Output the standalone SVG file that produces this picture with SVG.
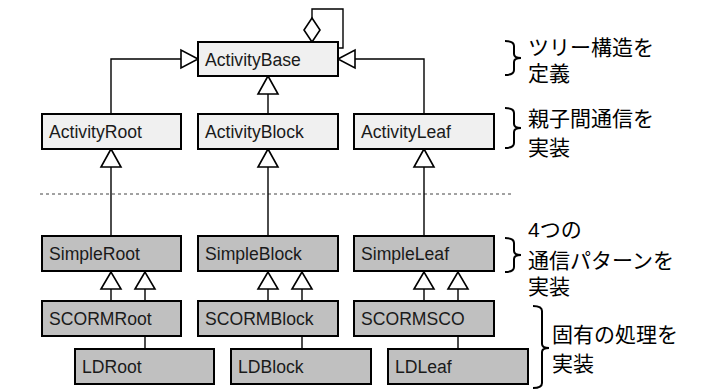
<svg xmlns="http://www.w3.org/2000/svg" width="704" height="389" viewBox="0 0 704 389">
<style>
.box{stroke:#000;stroke-width:2}
.light{fill:#f0f0f0}
.dark{fill:#c0c0c0}
.lbl{font-family:"Liberation Sans",Arial,sans-serif;font-size:17.6px;fill:#1a1a1a}
.jp{font-family:"Liberation Sans","Noto Sans CJK JP",sans-serif;font-size:21px;fill:#000}
.ln{fill:none;stroke:#000;stroke-width:1.4}
.tri{fill:#fff;stroke:#000;stroke-width:1.6;stroke-linejoin:miter}
.br{fill:none;stroke:#000;stroke-width:2}
</style>
<rect width="704" height="389" fill="#fff"/>
<g id="connectors">
<line x1="40" y1="194" x2="514" y2="194" stroke="#444" stroke-width="1" stroke-dasharray="3,3"/>
<path class="ln" d="M111,114 V59 H181"/>
<polygon class="tri" points="198,59 181,50 181,68"/>
<path class="ln" d="M424,114 V59 H355"/>
<polygon class="tri" points="338,59 355,50 355,68"/>
<path class="ln" d="M268,114 V94"/>
<polygon class="tri" points="268,76 258,94 278,94"/>
<path class="ln" d="M312,18 V9 H343 V48 H338"/>
<polygon class="tri" points="312,42 304,30 312,18 320,30"/>
<path class="ln" d="M111,236 V167"/>
<polygon class="tri" points="111,149 101,167 121,167"/>
<path class="ln" d="M268,236 V167"/>
<polygon class="tri" points="268,149 258,167 278,167"/>
<path class="ln" d="M424,236 V167"/>
<polygon class="tri" points="424,149 414,167 434,167"/>
<path class="ln" d="M111,301 V289 M145,301 V289 M145,336 V349"/>
<polygon class="tri" points="111,272 101,289 121,289"/>
<polygon class="tri" points="145,272 135,289 155,289"/>
<path class="ln" d="M268,301 V289 M302,301 V289 M302,336 V349"/>
<polygon class="tri" points="268,272 258,289 278,289"/>
<polygon class="tri" points="302,272 292,289 312,289"/>
<path class="ln" d="M424,301 V289 M458,301 V289 M458,336 V349"/>
<polygon class="tri" points="424,272 414,289 434,289"/>
<polygon class="tri" points="458,272 448,289 468,289"/>
</g>
<g id="ActivityBase"><rect class="box light" x="198" y="42" width="140" height="34"/><text class="lbl" x="205" y="66">ActivityBase</text></g>
<g id="ActivityRoot"><rect class="box light" x="42" y="114" width="139" height="35"/><text class="lbl" x="49" y="138">ActivityRoot</text></g>
<g id="ActivityBlock"><rect class="box light" x="198" y="114" width="140" height="35"/><text class="lbl" x="205" y="138">ActivityBlock</text></g>
<g id="ActivityLeaf"><rect class="box light" x="354" y="114" width="140" height="35"/><text class="lbl" x="361" y="138">ActivityLeaf</text></g>
<g id="SimpleRoot"><rect class="box dark" x="42" y="236" width="139" height="35"/><text class="lbl" x="49" y="260">SimpleRoot</text></g>
<g id="SimpleBlock"><rect class="box dark" x="198" y="236" width="140" height="35"/><text class="lbl" x="205" y="260">SimpleBlock</text></g>
<g id="SimpleLeaf"><rect class="box dark" x="354" y="236" width="140" height="35"/><text class="lbl" x="361" y="260">SimpleLeaf</text></g>
<g id="SCORMRoot"><rect class="box dark" x="42" y="301" width="139" height="35"/><text class="lbl" x="49" y="325">SCORMRoot</text></g>
<g id="SCORMBlock"><rect class="box dark" x="198" y="301" width="140" height="35"/><text class="lbl" x="205" y="325">SCORMBlock</text></g>
<g id="SCORMSCO"><rect class="box dark" x="354" y="301" width="140" height="35"/><text class="lbl" x="361" y="325">SCORMSCO</text></g>
<g id="LDRoot"><rect class="box dark" x="75" y="349" width="139" height="35"/><text class="lbl" x="82" y="373">LDRoot</text></g>
<g id="LDBlock"><rect class="box dark" x="231" y="349" width="140" height="35"/><text class="lbl" x="238" y="373">LDBlock</text></g>
<g id="LDLeaf"><rect class="box dark" x="388" y="349" width="140" height="35"/><text class="lbl" x="395" y="373">LDLeaf</text></g>
<g id="notes">
<path class="br" d="M505,41 Q514,41 514,46 V54 Q514,58 521,58 Q514,58 514,62 V70 Q514,75 505,75"/>
<text class="jp" x="528" y="55">ツリー構造を</text>
<text class="jp" x="528" y="81">定義</text>
<path class="br" d="M505,108 Q514,108 514,113 V124 Q514,128 521,128 Q514,128 514,132 V143 Q514,148 505,148"/>
<text class="jp" x="528" y="126">親子間通信を</text>
<text class="jp" x="528" y="155">実装</text>
<path class="br" d="M505,238 Q514,238 514,243 V251 Q514,255 521,255 Q514,255 514,259 V267 Q514,272 505,272"/>
<text class="jp" x="528" y="237">4つの</text>
<text class="jp" x="528" y="268">通信パターンを</text>
<text class="jp" x="528" y="294">実装</text>
<path class="br" d="M533,306 Q542,306 542,311 V344 Q542,348 549,348 Q542,348 542,352 V383 Q542,388 533,388"/>
<text class="jp" x="552" y="342">固有の処理を</text>
<text class="jp" x="552" y="371">実装</text>
</g>
</svg>
